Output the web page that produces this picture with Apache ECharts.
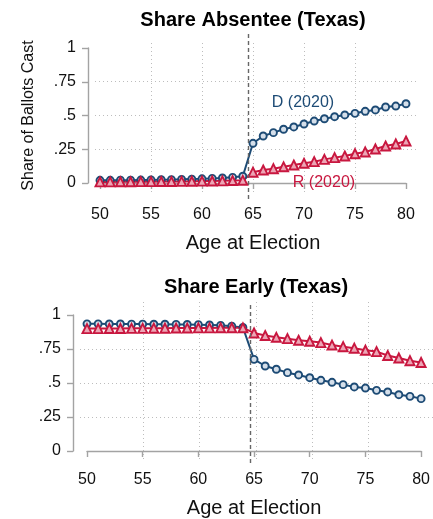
<!DOCTYPE html>
<html><head><meta charset="utf-8">
<script src="https://cdn.jsdelivr.net/npm/echarts@6/dist/echarts.min.js"></script>
<style>html,body{margin:0;padding:0;background:#fff}#c{width:433px;height:519px}</style>
</head><body><div id="c"></div>
<script>
// ---- data ----
const ages = [50,51,52,53,54,55,56,57,58,59,60,61,62,63,64,65,66,67,68,69,70,71,72,73,74,75,76,77,78,79,80];
const absenteeD = [0.020,0.020,0.021,0.021,0.022,0.023,0.024,0.025,0.027,0.029,0.031,0.034,0.037,0.042,0.050,
                   0.294,0.348,0.373,0.398,0.415,0.437,0.459,0.476,0.491,0.504,0.516,0.531,0.541,0.563,0.570,0.587];
const absenteeR = [0.008,0.008,0.009,0.009,0.010,0.010,0.011,0.011,0.012,0.013,0.014,0.015,0.016,0.018,0.020,
                   0.080,0.096,0.106,0.120,0.133,0.146,0.158,0.175,0.188,0.200,0.217,0.230,0.252,0.274,0.289,0.311];
const earlyD = [0.935,0.935,0.934,0.934,0.933,0.933,0.932,0.932,0.931,0.930,0.929,0.927,0.924,0.918,0.908,
                0.674,0.625,0.601,0.576,0.559,0.539,0.520,0.505,0.488,0.471,0.463,0.446,0.434,0.414,0.402,0.385];
const earlyR = [0.900,0.900,0.901,0.901,0.902,0.902,0.903,0.903,0.904,0.904,0.905,0.905,0.906,0.906,0.906,
                0.868,0.849,0.836,0.826,0.814,0.807,0.797,0.779,0.767,0.756,0.741,0.731,0.702,0.684,0.664,0.651];
const xTickValues = [50,55,60,65,70,75,80];
const yTickValues = [0,0.25,0.5,0.75,1];
const yTickLabels = ['0','.25','.5','.75','1'];
const cutoffAge = 64.5;
const titles = ['Share Absentee (Texas)','Share Early (Texas)'];
const yAxisTitle = 'Share of Ballots Cast';
const xAxisTitle = 'Age at Election';
const seriesNames = ['D (2020)','R (2020)'];
const labelAnchorD = [69.9, 0.593];
const labelAnchorR = [71.96, 0.004];

// ---- style / layout ----
const BLUE = '#1d4b75', RED = '#c8173f';
const FONT = '"Liberation Sans", Arial, Helvetica, sans-serif';
const AXIS = '#a3a3a3';
const panels = [
  { d: absenteeD, r: absenteeR, title: titles[0], titleTop: 10,
    plot: {l:100, r:406, t:48, b:183}, bg: {l:95, r:418, t:43, b:195}, dash: {t:32, b:199},
    yOff: 12, xOff: 14, yName: yAxisTitle, annot: true },
  { d: earlyD, r: earlyR, title: titles[1], titleTop: 277,
    plot: {l:87, r:425, t:315, b:451}, bg: {l:80, r:433, t:302, b:460}, dash: {t:302, b:463},
    yOff: 14, xOff: 11, yName: '', annot: false }
];

const xMin = xTickValues[0], xMax = xTickValues[xTickValues.length-1];
const yMin = yTickValues[0], yMax = yTickValues[yTickValues.length-1];

const grid = [], xAxis = [], yAxis = [], series = [], graphic = [];
const txt = (size, color, weight) => ({fontFamily: FONT, fontSize: size, color: color, fontWeight: weight || 'normal'});

panels.forEach((p, i) => {
  const base = grid.length;
  const pw = p.plot.r - p.plot.l, ph = p.plot.b - p.plot.t;
  grid.push({left: p.plot.l, top: p.plot.t, width: pw, height: ph});
  grid.push({left: p.bg.l, top: p.bg.t, width: p.bg.r - p.bg.l, height: p.bg.b - p.bg.t});
  grid.push({left: p.plot.l, top: p.dash.t, width: pw, height: p.dash.b - p.dash.t});

  xAxis.push({
    gridIndex: base, type: 'value', min: xMin, max: xMax, interval: 5, offset: p.xOff,
    axisLine: {show: true, lineStyle: {color: AXIS, width: 1.4}},
    axisTick: {show: true, length: 6, lineStyle: {color: AXIS, width: 1.4}},
    axisLabel: Object.assign({margin: 10, showMaxLabel: true, showMinLabel: true}, txt(16, '#111')),
    splitLine: {show: false},
    name: xAxisTitle, nameLocation: 'middle', nameGap: 36, nameTextStyle: txt(20, '#111')
  });
  yAxis.push({
    gridIndex: base, type: 'value', min: yMin, max: yMax, interval: 0.25, offset: p.yOff,
    axisLine: {show: true, lineStyle: {color: AXIS, width: 1.4}},
    axisTick: {show: true, length: 6, lineStyle: {color: AXIS, width: 1.4}},
    axisLabel: Object.assign({margin: 12, formatter: v => {
      const k = yTickValues.indexOf(v); return k >= 0 ? yTickLabels[k] : ''; }}, txt(16, '#111')),
    splitLine: {show: false},
    name: p.yName, nameLocation: 'middle', nameGap: 51, nameTextStyle: txt(16, '#111')
  });
  const sx = (xMax - xMin) / pw, sy = (yMax - yMin) / ph;
  const dotted = {show: true, lineStyle: {color: '#bdbdbd', width: 1, type: [1, 3]}};
  xAxis.push({
    gridIndex: base + 1, type: 'value',
    min: xMin + (p.bg.l - p.plot.l) * sx, max: xMin + (p.bg.r - p.plot.l) * sx,
    axisLine: {show: false}, axisLabel: {show: false},
    axisTick: {show: false, customValues: xTickValues},
    splitLine: Object.assign({showMinLine: false, showMaxLine: false}, dotted)
  });
  yAxis.push({
    gridIndex: base + 1, type: 'value',
    min: yMin + (p.plot.b - p.bg.b) * sy, max: yMin + (p.plot.b - p.bg.t) * sy,
    axisLine: {show: false}, axisLabel: {show: false},
    axisTick: {show: false, customValues: yTickValues},
    splitLine: Object.assign({showMinLine: false, showMaxLine: false}, dotted)
  });
  xAxis.push({gridIndex: base + 2, type: 'value', min: xMin, max: xMax, show: false});
  yAxis.push({gridIndex: base + 2, type: 'value', min: 0, max: 1, show: false});

  series.push({
    type: 'line', xAxisIndex: base + 2, yAxisIndex: base + 2, data: [], z: 1, silent: true,
    markLine: {symbol: 'none', silent: true, animation: false, label: {show: false},
      lineStyle: {type: [4, 3], color: '#666', width: 1.4},
      data: [{xAxis: cutoffAge}]}
  });

  const mk = (vals, color, symbol, size, fill, name, anchor) => {
    const s = {
      type: 'line', name: name, xAxisIndex: base, yAxisIndex: base,
      data: ages.map((a, k) => [a, vals[k]]),
      symbol: symbol, symbolSize: size, showAllSymbol: true, z: 3,
      lineStyle: {color: color, width: 2},
      itemStyle: {color: fill, borderColor: color, borderWidth: 1.9},
      emphasis: {disabled: true}, silent: true
    };
    if (anchor) {
      s.markPoint = {silent: true, animation: false, symbol: 'circle', symbolSize: 0,
        label: Object.assign({show: true, position: 'inside', formatter: name}, txt(16, color)),
        data: [{coord: anchor}]};
    }
    return s;
  };
  series.push(mk(p.d, BLUE, 'circle', 7, '#d5dfea', seriesNames[0], p.annot ? labelAnchorD : null));
  series.push(mk(p.r, RED, 'triangle', 9, '#eca6b6', seriesNames[1], p.annot ? labelAnchorR : null));

  graphic.push({type: 'text', x: (p.plot.l + p.plot.r) / 2, y: p.titleTop, silent: true,
    style: {text: p.title, align: 'center', verticalAlign: 'top',
      font: 'bold 20px ' + FONT, fill: '#000'}});
});

const chart = echarts.init(document.getElementById('c'), null, {renderer: 'canvas'});
chart.setOption({animation: false, backgroundColor: '#fff', grid, xAxis, yAxis, series, graphic});
</script></body></html>
